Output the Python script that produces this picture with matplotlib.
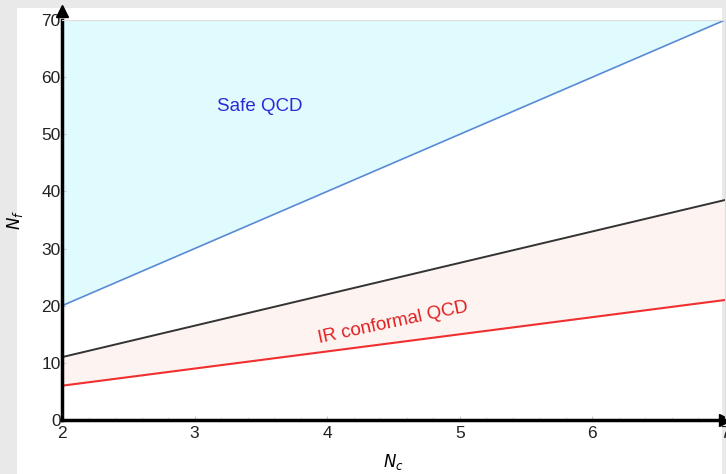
import numpy as np
import matplotlib.pyplot as plt
from matplotlib.patches import Rectangle

# phase boundaries
nc = [2, 7]
nf_safe = [20, 70]      # blue line
nf_upper = [11, 38.5]   # black line
nf_lower = [6, 21]      # red line
nf_top = [70, 70]

plt.rcParams['font.family'] = ['Liberation Sans', 'DejaVu Sans']

f = plt.figure(figsize=(7.26, 4.74), dpi=100, facecolor='#e9e9ea')
# white panel with a thin grey frame on left/top
f.patches.append(Rectangle((17/726, 0), 705/726, 466/474, transform=f.transFigure,
                           facecolor='white', edgecolor='none', zorder=-5))
ax = f.add_axes([62/726, 54/474, 663/726, 400/474])
ax.set_zorder(1)
ax.set_facecolor('none')

ax.fill_between(nc, nf_safe, nf_top, color='#e0fbfd', lw=0)
ax.fill_between(nc, nf_lower, nf_upper, color='#fdf3f1', lw=0)
ax.plot(nc, nf_safe, '-', color='#5a8ad6', lw=1.2)
ax.plot(nc, nf_upper, '-', color='#333333', lw=1.4)
ax.plot(nc, nf_lower, '-', color='#f03030', lw=1.5)

ax.text(3.17, 54.8, 'Safe QCD', color='#2a2ad8', fontsize=13.5, va='center', ha='left')
ax.text(4.5, 17.0, 'IR conformal QCD', color='#e02020', fontsize=13.5,
        va='center', ha='center', rotation=12)

ax.set_xlim(2, 7)
ax.set_ylim(0, 70)
ax.set_xticks([2, 3, 4, 5, 6, 7])
ax.set_yticks([0, 10, 20, 30, 40, 50, 60, 70])
ax.set_xticks(np.arange(2, 7.01, 0.2), minor=True)
ax.tick_params(axis='both', which='major', direction='in', length=3, color='#cccccc',
               labelsize=12.5, labelcolor='#222222')
ax.tick_params(axis='x', which='major', pad=4)
ax.tick_params(axis='y', which='major', pad=1)
ax.tick_params(axis='both', which='minor', direction='in', length=2, color='#dddddd')
ax.set_xlabel(r'$N_c$', fontsize=12, labelpad=8)
ax.set_ylabel(r'$N_f$', fontsize=12, labelpad=12)

for s in ['left', 'bottom']:
    ax.spines[s].set_linewidth(2.5)
    ax.spines[s].set_color('black')
for s in ['top', 'right']:
    ax.spines[s].set_linewidth(0.8)
    ax.spines[s].set_color('#dddddd')

# arrow heads on the axes
ax.plot([2], [71.5], marker='^', color='black', ms=8, clip_on=False)
ax.plot([7.0], [0], marker='>', color='black', ms=8, clip_on=False)

f.savefig('out.png', dpi=100, facecolor=f.get_facecolor())
